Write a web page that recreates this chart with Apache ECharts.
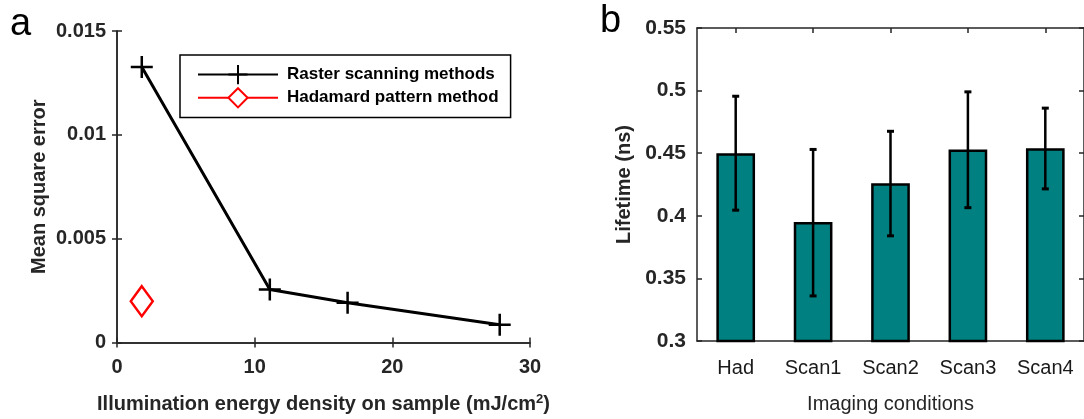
<!DOCTYPE html>
<html>
<head>
<meta charset="utf-8">
<script src="https://cdn.jsdelivr.net/npm/echarts@6/dist/echarts.min.js"></script>
<style>
  html, body { margin: 0; padding: 0; background: #fff; }
  #chart { width: 1084px; height: 419px; }
</style>
</head>
<body>
<div id="chart"></div>
<script>
// panel a: mean square error vs illumination energy
const energy = [1.8, 11.1, 16.75, 27.8];
const rasterMSE = [0.01327, 0.00255, 0.00191, 0.00085];
const hadEnergy = [1.8];
const hadMSE = [0.00199];

// panel b: lifetime per imaging condition
const conditions = ["Had", "Scan1", "Scan2", "Scan3", "Scan4"];
const lifetime = [0.450, 0.395, 0.426, 0.453, 0.454];
const errLow = [0.4045, 0.336, 0.384, 0.4065, 0.4215];
const errHigh = [0.4955, 0.453, 0.4675, 0.499, 0.486];

const font = "'Liberation Sans', Arial, Helvetica, sans-serif";
const ink = "#262626";
const plus = "path://M0,-10 L0,10 M-10,0 L10,0";

const axisLine = { show: true, lineStyle: { color: ink, width: 1.5 } };
const tickIn = { show: true, inside: true, length: 5, lineStyle: { color: ink, width: 1.5 } };
const tickLabel = (size) => ({ color: ink, fontFamily: font, fontSize: size, fontWeight: "bold" });

const chart = echarts.init(document.getElementById("chart"));

chart.setOption({
  animation: false,
  backgroundColor: "#fff",
  grid: [
    { left: 117, top: 31, width: 413, height: 314 },
    { left: 697, top: 28, width: 400, height: 318 },
  ],
  legend: {
    data: ["Raster scanning methods", "Hadamard pattern method"],
    orient: "vertical",
    left: 180,
    top: 55,
    padding: [9, 12, 9, 17],
    itemWidth: 80,
    itemHeight: 24,
    itemGap: 2,
    backgroundColor: "#fff",
    borderColor: "#000",
    borderWidth: 1.5,
    textStyle: { color: "#000", fontFamily: font, fontSize: 17, fontWeight: "bold", padding: [0, 0, 0, 4] },
  },
  xAxis: [
    {
      gridIndex: 0, type: "value", min: 0, max: 30, interval: 10,
      name: "{t|Illumination energy density on sample (mJ/cm}{s|2}{t|)}",
      nameLocation: "middle", nameGap: 50,
      nameTextStyle: {
        rich: {
          t: { color: ink, fontFamily: font, fontSize: 20, fontWeight: "bold" },
          s: { color: ink, fontFamily: font, fontSize: 13, fontWeight: "bold", verticalAlign: "top", padding: [0, 0, 10, 0] },
        },
      },
      axisLine: axisLine, axisTick: tickIn, splitLine: { show: false },
      axisLabel: Object.assign({ margin: 15 }, tickLabel(20)),
    },
    {
      gridIndex: 0, type: "value", min: 0, max: 30, interval: 10, position: "top",
      axisLine: axisLine, axisTick: tickIn, splitLine: { show: false }, axisLabel: { show: false },
    },
    {
      gridIndex: 1, type: "category", data: conditions,
      name: "Imaging conditions", nameLocation: "middle", nameGap: 53,
      nameTextStyle: { color: ink, fontFamily: font, fontSize: 20 },
      axisLine: axisLine, axisTick: Object.assign({ alignWithLabel: true }, tickIn),
      axisLabel: { color: "#1a1a1a", fontFamily: font, fontSize: 20, margin: 17 },
    },
    {
      gridIndex: 1, type: "category", data: conditions, position: "top",
      axisLine: axisLine, axisTick: Object.assign({ alignWithLabel: true }, tickIn),
      axisLabel: { show: false },
    },
  ],
  yAxis: [
    {
      gridIndex: 0, type: "value", min: 0, max: 0.015, interval: 0.005,
      name: "Mean square error", nameLocation: "middle", nameGap: 68,
      nameTextStyle: { color: ink, fontFamily: font, fontSize: 20, fontWeight: "bold" },
      axisLine: axisLine, axisTick: tickIn, splitLine: { show: false },
      axisLabel: Object.assign({ margin: 11 }, tickLabel(20)),
    },
    {
      gridIndex: 0, type: "value", min: 0, max: 0.015, interval: 0.005, position: "right",
      axisLine: axisLine, axisTick: tickIn, splitLine: { show: false }, axisLabel: { show: false },
    },
    {
      gridIndex: 1, type: "value", min: 0.3, max: 0.55, interval: 0.05,
      name: "Lifetime (ns)", nameLocation: "middle", nameGap: 63,
      nameTextStyle: { color: ink, fontFamily: font, fontSize: 20, fontWeight: "bold" },
      axisLine: axisLine, axisTick: tickIn, splitLine: { show: false },
      axisLabel: Object.assign({ margin: 11, formatter: (v) => String(+v.toFixed(2)) }, tickLabel(21)),
    },
    {
      gridIndex: 1, type: "value", min: 0.3, max: 0.55, interval: 0.05, position: "right",
      axisLine: axisLine, axisTick: tickIn, splitLine: { show: false }, axisLabel: { show: false },
    },
  ],
  series: [
    {
      name: "Raster scanning methods",
      type: "line",
      xAxisIndex: 0, yAxisIndex: 0,
      data: energy.map((x, i) => [x, rasterMSE[i]]),
      symbol: plus, symbolSize: 22,
      lineStyle: { color: "#000", width: 3 },
      itemStyle: { color: "#000", borderColor: "#000", borderWidth: 2.5 },
      z: 3,
    },
    {
      name: "Hadamard pattern method",
      type: "line",
      xAxisIndex: 0, yAxisIndex: 0,
      data: hadEnergy.map((x, i) => [x, hadMSE[i]]),
      symbol: "diamond", symbolSize: [22, 30],
      lineStyle: { color: "#f00", width: 3 },
      itemStyle: { color: "#fff", borderColor: "#f00", borderWidth: 2.5 },
      z: 3,
    },
    {
      type: "bar",
      xAxisIndex: 2, yAxisIndex: 2,
      data: lifetime,
      barWidth: "50%",
      itemStyle: { color: "#008080", borderColor: "#000", borderWidth: 2.5 },
    },
    {
      type: "custom",
      xAxisIndex: 2, yAxisIndex: 2,
      data: conditions.map((c, i) => [i, errLow[i], errHigh[i]]),
      z: 4,
      renderItem: (params, api) => {
        const lo = api.coord([api.value(0), api.value(1)]);
        const hi = api.coord([api.value(0), api.value(2)]);
        const cap = 3.5;
        const capStyle = { stroke: "#000", lineWidth: 3 };
        return {
          type: "group",
          children: [
            { type: "line", shape: { x1: lo[0], y1: lo[1], x2: hi[0], y2: hi[1] }, style: { stroke: "#000", lineWidth: 2.5 } },
            { type: "line", shape: { x1: lo[0] - cap, y1: lo[1], x2: lo[0] + cap, y2: lo[1] }, style: capStyle },
            { type: "line", shape: { x1: hi[0] - cap, y1: hi[1], x2: hi[0] + cap, y2: hi[1] }, style: capStyle },
          ],
        };
      },
    },
  ],
  graphic: [
    { type: "text", left: 10, top: 6, style: { text: "a", fontFamily: font, fontSize: 38, fill: "#000" } },
    { type: "text", left: 600, top: 3, style: { text: "b", fontFamily: font, fontSize: 38, fill: "#000" } },
  ],
});
</script>
</body>
</html>
